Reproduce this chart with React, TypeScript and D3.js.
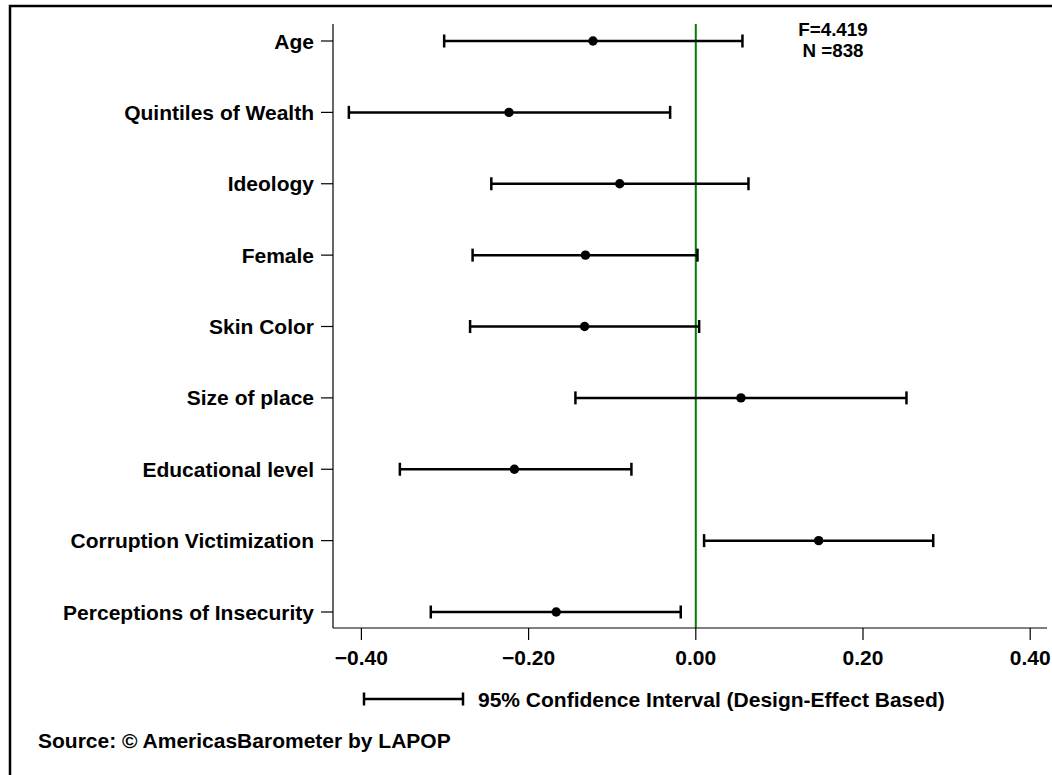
import React from "react";
import * as d3 from "d3";

const categories = [
  "Age",
  "Quintiles of Wealth",
  "Ideology",
  "Female",
  "Skin Color",
  "Size of place",
  "Educational level",
  "Corruption Victimization",
  "Perceptions of Insecurity",
];
const estimates = [-0.123, -0.2235, -0.091, -0.132, -0.133, 0.054, -0.217, 0.147, -0.167];
const lowerCI = [-0.301, -0.415, -0.2446, -0.267, -0.27, -0.144, -0.354, 0.0099, -0.317];
const upperCI = [0.0558, -0.0307, 0.063, 0.002, 0.004, 0.252, -0.077, 0.284, -0.018];
const xTicks = [-0.4, -0.2, 0, 0.2, 0.4];
const statsLines = ["F=4.419", "N =838"];
const legendText = "95% Confidence Interval (Design-Effect Based)";
const sourceText = "Source: \u00A9 AmericasBarometer by LAPOP";

const FONT = "Arial, 'Liberation Sans', Helvetica, sans-serif";

export default function App() {
  const W = 1052;
  const H = 775;
  const x = d3.scaleLinear().domain([-0.4, 0.4]).range([361.4, 1030.2]);
  const y = d3.scalePoint<string>().domain(categories).range([41, 612]);
  const axisX = 333;
  const axisY = 628;
  const fmt = d3.format(".2f");
  const capH = 6.5;

  return (
    <svg
      width={W}
      height={H}
      style={{ position: "absolute", left: 0, top: 0 }}
      fontFamily={FONT}
      fontWeight="bold"
    >
      <rect x={0} y={0} width={W} height={H} fill="#fff" />
      <rect x={10} y={6} width={W + 20} height={H + 20} fill="none" stroke="#000" strokeWidth={2.5} />

      {/* zero line */}
      <line x1={x(0)} x2={x(0)} y1={24} y2={axisY} stroke="#008000" strokeWidth={2} />

      {/* axes */}
      <line x1={axisX} x2={axisX} y1={24} y2={axisY} stroke="#000" strokeWidth={1.2} />
      <line x1={axisX} x2={1047} y1={axisY} y2={axisY} stroke="#000" strokeWidth={1.2} />

      {categories.map((c) => (
        <g key={c}>
          <line x1={axisX - 12} x2={axisX} y1={y(c)} y2={y(c)} stroke="#000" strokeWidth={1.2} />
          <text x={axisX - 19} y={y(c)} textAnchor="end" dominantBaseline="central" fontSize={21} fill="#000">
            {c}
          </text>
        </g>
      ))}

      {xTicks.map((t) => (
        <g key={t}>
          <line x1={x(t)} x2={x(t)} y1={axisY} y2={axisY + 12} stroke="#000" strokeWidth={1.2} />
          <text x={x(t)} y={axisY + 29} textAnchor="middle" dominantBaseline="central" fontSize={21} fill="#000">
            {fmt(t)}
          </text>
        </g>
      ))}

      {/* error bars */}
      {categories.map((c, i) => {
        const yy = y(c) as number;
        return (
          <g key={"e" + c}>
            <line x1={x(lowerCI[i])} x2={x(upperCI[i])} y1={yy} y2={yy} stroke="#000" strokeWidth={2.5} />
            <line x1={x(lowerCI[i])} x2={x(lowerCI[i])} y1={yy - capH} y2={yy + capH} stroke="#000" strokeWidth={2.5} />
            <line x1={x(upperCI[i])} x2={x(upperCI[i])} y1={yy - capH} y2={yy + capH} stroke="#000" strokeWidth={2.5} />
            <circle cx={x(estimates[i])} cy={yy} r={4.7} fill="#000" />
          </g>
        );
      })}

      {/* stats */}
      {statsLines.map((s, i) => (
        <text key={s} x={833} y={29 + i * 21} textAnchor="middle" dominantBaseline="central" fontSize={18.8} fill="#000">
          {s}
        </text>
      ))}

      {/* legend */}
      <line x1={364} x2={463} y1={699} y2={699} stroke="#000" strokeWidth={2.5} />
      <line x1={364} x2={364} y1={699 - capH} y2={699 + capH} stroke="#000" strokeWidth={2.5} />
      <line x1={463} x2={463} y1={699 - capH} y2={699 + capH} stroke="#000" strokeWidth={2.5} />
      <text x={478} y={699} dominantBaseline="central" fontSize={21} fill="#000">
        {legendText}
      </text>

      <text x={38} y={740} dominantBaseline="central" fontSize={21} fill="#000">
        {sourceText}
      </text>
    </svg>
  );
}
